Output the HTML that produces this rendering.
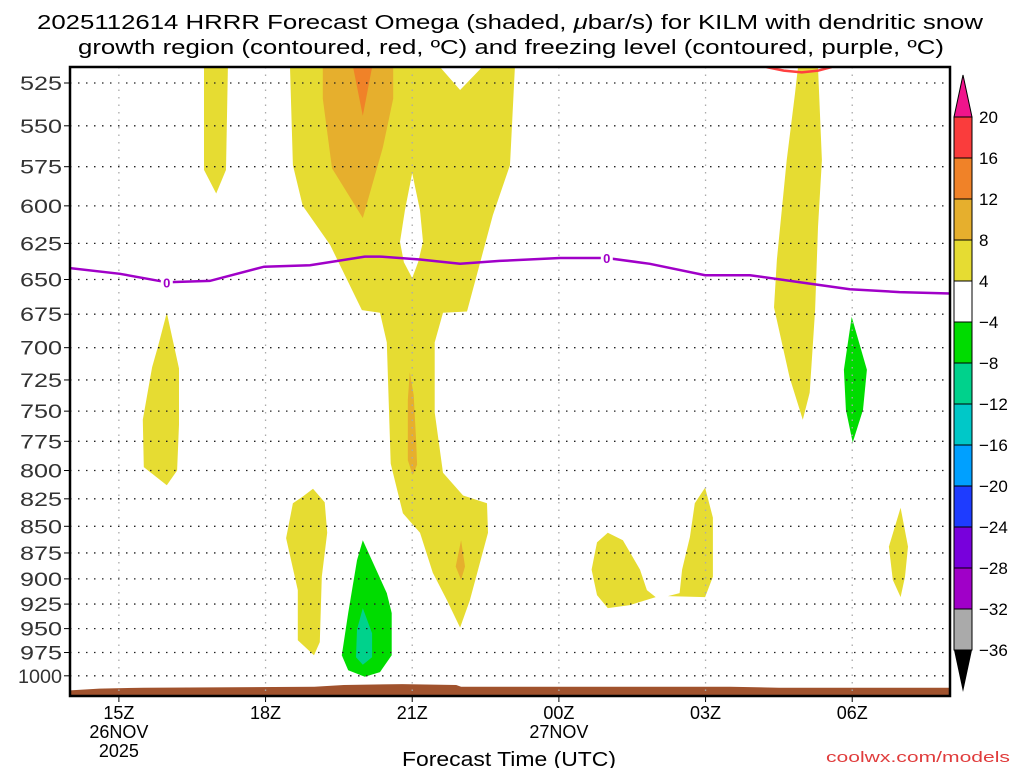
<!DOCTYPE html>
<html><head><meta charset="utf-8"><style>
html,body{margin:0;padding:0;background:#fff;}
svg{display:block;font-family:"Liberation Sans",sans-serif;}
</style></head><body>
<svg id="chart" width="1024" height="768" viewBox="0 0 1024 768" xmlns="http://www.w3.org/2000/svg">
<text x="37" y="29" font-size="20" textLength="946" lengthAdjust="spacingAndGlyphs" fill="#000">2025112614 HRRR Forecast Omega (shaded, <tspan font-style="italic">μ</tspan>bar/s) for KILM with dendritic snow</text>
<text x="78" y="54" font-size="20" textLength="866" lengthAdjust="spacingAndGlyphs" fill="#000">growth region (contoured, red, ºC) and freezing level (contoured, purple, ºC)</text>
<g id="fills"></g>
<g id="grid"></g>
<g id="lines"></g>
<g id="axes"></g>
<g id="cbar"></g>
<text x="402" y="766" font-size="20" textLength="214" lengthAdjust="spacingAndGlyphs" fill="#000">Forecast Time (UTC)</text>
<text x="826" y="762" font-size="15" textLength="184" lengthAdjust="spacingAndGlyphs" fill="#e03c3c">coolwx.com/models</text>
</svg>
<script>
const pressureTicks=[525,550,575,600,625,650,675,700,725,750,775,800,825,850,875,900,925,950,975,1000];
const timeTicks=[15,18,21,24,27,30];
const timeLabels=[["15Z","26NOV","2025"],["18Z"],["21Z"],["00Z","27NOV"],["03Z"],["06Z"]];
const cbarLabels=["20","16","12","8","4","−4","−8","−12","−16","−20","−24","−28","−32","−36"];
const cbarColors=["#fa3c3c","#f08228","#e6af2d","#e6dc32","#ffffff","#00dc00","#00d28c","#00c8c8","#00a0ff","#1e3cff","#7800dc","#a000c8","#aaaaaa"];
// omega regions [hour, hPa]
const yellowA=[[16.74,516],[17.23,516],[17.19,577],[16.99,592],[16.74,577]];
const yellowB=[[18.5,516],[21.57,516],[21.98,529],[22.43,516],[23.1,516],[23.0,574],[22.65,606],[22.12,673],[21.63,674],[21.46,696],[21.46,751],[21.63,802],[22.04,822],[22.53,829],[22.55,856],[22.18,921],[21.98,949],[21.71,921],[21.42,894],[21.16,856],[20.81,838],[20.56,794],[20.48,696],[20.34,674],[19.97,672],[19.32,626],[18.76,600],[18.56,574]];
const holeB=[[21.0,579],[21.16,603],[21.22,624],[21.12,638],[21.0,649],[20.83,638],[20.75,624],[20.85,603]];
const orangeC=[[19.17,516],[20.61,516],[20.61,534],[20.4,563],[19.99,608],[19.36,576],[19.17,534]];
const darkOrangeD=[[19.79,516],[20.18,516],[19.99,544]];
const orangeE=[[20.95,719],[21.03,737],[21.08,774],[21.1,795],[21.01,804],[20.91,791],[20.91,741]];
const orangeF=[[22.0,863],[22.08,888],[22.0,901],[21.89,888]];
const yellowG=[[18.97,816],[19.21,828],[19.26,856],[19.15,898],[19.11,964],[18.99,978],[18.66,962],[18.66,911],[18.42,861],[18.56,829],[18.76,823]];
const greenH=[[19.99,863],[20.48,914],[20.58,934],[20.58,978],[20.34,996],[20.03,1001],[19.69,994],[19.56,978],[19.69,934],[19.87,882]];
const tealI=[[19.99,929],[20.18,955],[20.18,980],[19.99,988],[19.85,980],[19.87,951]];
const yellowJ=[[15.98,674],[16.23,716],[16.23,761],[16.19,800],[15.98,813],[15.51,797],[15.49,757],[15.68,715],[15.8,699]];
const yellowK=[[25.0,856],[25.31,863],[25.66,891],[25.8,911],[25.98,918],[25.45,926],[25.0,929],[24.78,916],[24.67,891],[24.78,865]];
const yellowL=[[26.99,815],[27.15,842],[27.15,898],[26.99,918],[26.23,917],[26.47,914],[26.52,891],[26.68,860],[26.78,829]];
const yellowM=[[30.99,833],[31.14,869],[31.08,898],[30.99,918],[30.83,901],[30.75,869]];
const yellowN=[[28.89,516],[29.3,516],[29.38,571],[29.3,614],[29.24,672],[29.13,735],[28.99,757],[28.72,723],[28.4,670],[28.46,636],[28.66,571],[28.83,531]];
const greenO=[[29.99,677],[30.3,717],[30.22,749],[30.01,776],[29.87,749],[29.83,717]];
const dgzArc=[[28.25,516],[28.6,518],[28.97,519],[29.3,518],[29.58,516]];
const freezeHours=[14.0,15.02,15.98,16.86,17.97,18.91,20.03,20.34,21.16,21.98,22.79,24.02,24.98,25.86,26.99,27.91,28.93,29.95,30.97,32.0];
const freezeP=[642,646,652,651,641,640,634,634,636,639,637,635,635,639,647,647,652,657,659,660];
const freezeLabelHours=[15.98,24.98];
const sfcHours=[14.0,14.6,15.5,19.0,19.6,20.8,21.9,22.0,27.5,28.5,32.0];
const sfcP=[1016,1014,1013,1012,1010,1009,1010,1012,1012,1013,1013];

const L=70,R=950,T=67,B=696,H0=14,H1=32;
const X=h=>L+(h-H0)/(H1-H0)*(R-L);
const Y=p=>83+920*Math.log(p/525);
const NS="http://www.w3.org/2000/svg";
function mk(tag,parent,attrs){const e=document.createElementNS(NS,tag);for(const k in attrs)e.setAttribute(k,attrs[k]);parent.appendChild(e);return e;}
const fills=document.getElementById('fills'),grid=document.getElementById('grid'),lines=document.getElementById('lines'),axes=document.getElementById('axes'),cbar=document.getElementById('cbar');
const clip=mk('clipPath',document.getElementById('chart'),{id:'pc'});
mk('rect',clip,{x:L,y:T,width:R-L,height:B-T});
fills.setAttribute('clip-path','url(#pc)');lines.setAttribute('clip-path','url(#pc)');
function poly(pts,color,name){
  const e=mk('polygon',fills,{points:pts.map(p=>X(p[0]).toFixed(1)+','+Y(p[1]).toFixed(1)).join(' '),fill:color});
  
  
}
poly(yellowA,'#e6dc32','omega-region-a');
poly(yellowB,'#e6dc32','omega-region-b');
poly(holeB,'#ffffff','omega-hole-b');
poly(orangeC,'#e6af2d','omega-region-c');
poly(darkOrangeD,'#f08228','omega-region-d');
poly(orangeE,'#e6af2d','omega-region-e');
poly(orangeF,'#e6af2d','omega-region-f');
poly(yellowG,'#e6dc32','omega-region-g');
poly(greenH,'#00dc00','omega-region-h');
poly(tealI,'#00d28c','omega-region-i');
poly(yellowJ,'#e6dc32','omega-region-j');
poly(yellowK,'#e6dc32','omega-region-k');
poly(yellowL,'#e6dc32','omega-region-l');
poly(yellowM,'#e6dc32','omega-region-m');
poly(yellowN,'#e6dc32','omega-region-n');
poly(greenO,'#00dc00','omega-region-o');
{const pts=sfcHours.map((h,i)=>X(h).toFixed(1)+','+Y(sfcP[i]).toFixed(1));pts.push(R+','+B,L+','+B);
const e=mk('polygon',fills,{points:pts.join(' '),fill:'#a0522d'});

}
pressureTicks.forEach(p=>{const e=mk('line',grid,{x1:L,x2:R,y1:Y(p),y2:Y(p),stroke:'#222','stroke-width':1.3,'stroke-dasharray':'1.5 6.5'});

});
timeTicks.forEach(h=>{const e=mk('line',grid,{x1:X(h),x2:X(h),y1:T,y2:B,stroke:'#aaa','stroke-width':1.3,'stroke-dasharray':'1.5 6'});

});
{const e=mk('polyline',lines,{points:dgzArc.map(p=>X(p[0])+','+Y(p[1])).join(' '),fill:'none',stroke:'#ff4040','stroke-width':2.5});

}
{const e=mk('polyline',lines,{points:freezeHours.map((h,i)=>X(h).toFixed(1)+','+Y(freezeP[i]).toFixed(1)).join(' '),fill:'none',stroke:'#a000c8','stroke-width':2.5});

}
freezeLabelHours.forEach(h=>{let i=freezeHours.indexOf(h);const x=X(h),y=Y(freezeP[i]);
mk('rect',lines,{x:x-6,y:y-7,width:12,height:14,fill:'#fff'});
const t=mk('text',lines,{x:x,y:y+5,'font-size':13,'font-weight':'bold','text-anchor':'middle',fill:'#a000c8'});t.textContent='0';

});
{const e=mk('rect',axes,{x:L,y:T,width:R-L,height:B-T,fill:'none',stroke:'#000','stroke-width':2.5});

}
pressureTicks.forEach(p=>{mk('line',axes,{x1:L-6,x2:L,y1:Y(p),y2:Y(p),stroke:'#000','stroke-width':1});
const s=String(p);const w=s.length===4?44:42;
const t=mk('text',axes,{x:62-w,y:Y(p)+7,'font-size':19,textLength:w,lengthAdjust:'spacingAndGlyphs',fill:'#333'});t.textContent=s;

});
timeTicks.forEach((h,i)=>{mk('line',axes,{x1:X(h),x2:X(h),y1:B,y2:B+6,stroke:'#000','stroke-width':1});
timeLabels[i].forEach((s,j)=>{const t=mk('text',axes,{x:X(h),y:719+j*19,'font-size':18,'text-anchor':'middle',fill:'#000'});t.textContent=s;

});});
const cx=954,cw=18,ct=117,ch=41;
{const e=mk('polygon',cbar,{points:`${cx},${ct} ${cx+cw},${ct} ${cx+cw/2},${ct-42}`,fill:'#f0148c',stroke:'#000','stroke-width':1});

}
cbarColors.forEach((c,i)=>{const e=mk('rect',cbar,{x:cx,y:ct+i*ch,width:cw,height:ch,fill:c,stroke:'#000','stroke-width':1});

});
{const yb=ct+cbarColors.length*ch;const e=mk('polygon',cbar,{points:`${cx},${yb} ${cx+cw},${yb} ${cx+cw/2},${yb+42}`,fill:'#000'});

}
cbarLabels.forEach((s,i)=>{const t=mk('text',cbar,{x:979,y:ct+i*ch+6,'font-size':17,fill:'#000'});t.textContent=s;

});
</script>
</body></html>
